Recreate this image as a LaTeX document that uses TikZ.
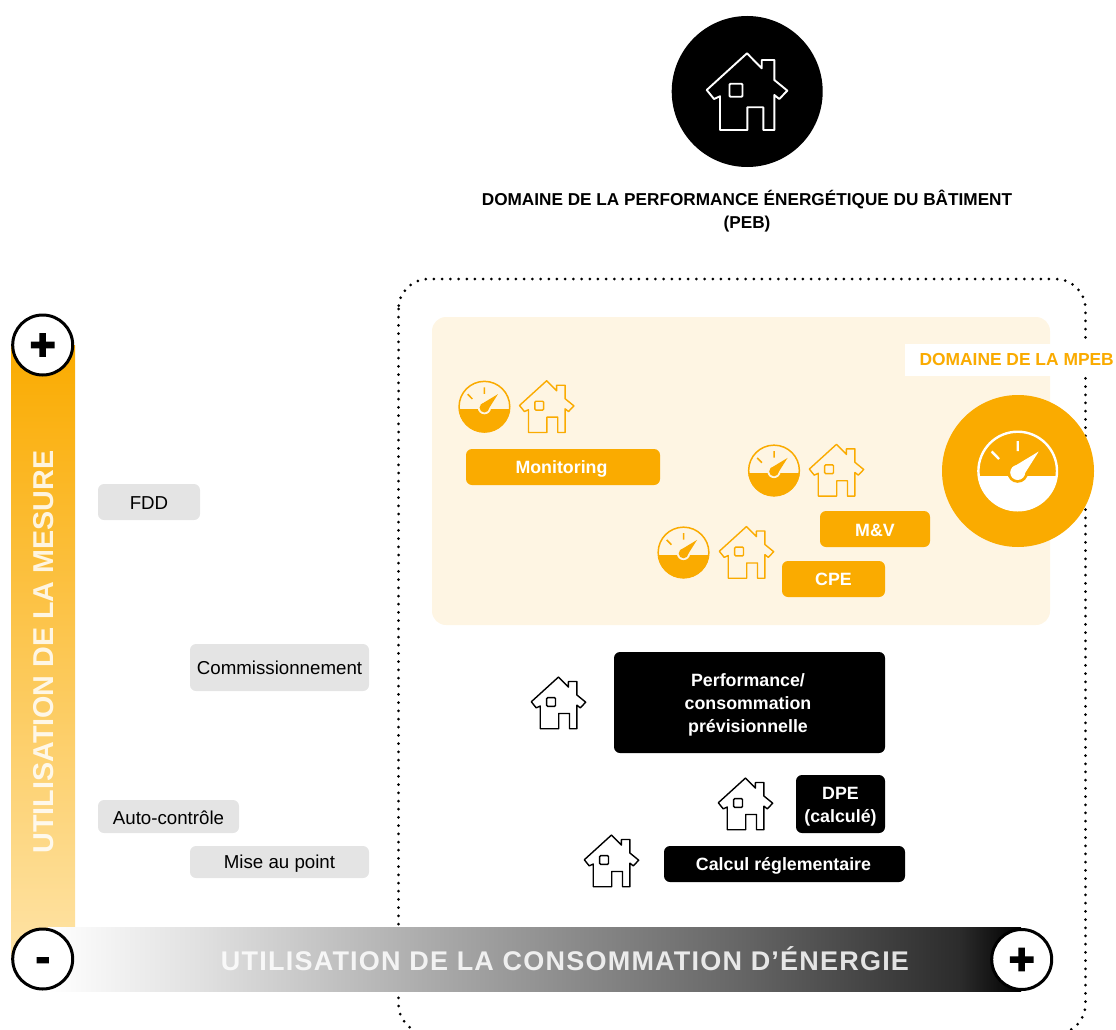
\documentclass[tikz,border=0pt]{standalone}
\usepackage{fontspec}
\setmainfont{Liberation Sans}
\newfontfamily\spacedfont[LetterSpace=4.5]{Liberation Sans}
\newfontfamily\signfont[FakeBold=12]{DejaVu Sans}
\definecolor{mpeb}{HTML}{FAAB00}
\definecolor{panel}{HTML}{FEF5E3}
\definecolor{greybox}{HTML}{E4E4E4}
\definecolor{barlow}{HTML}{FEE3A6}
\pgfdeclarehorizontalshading{energybar}{100bp}{color(0bp)=(white); color(25bp)=(white); color(32.81bp)=(black!12); color(45.14bp)=(black!34); color(60.56bp)=(black!60); color(71.87bp)=(black!83); color(75bp)=(black); color(100bp)=(black)}
% lower the text of a node by #1 without moving the node's box
\newcommand\lowered[2]{\raisebox{0pt}[\dimexpr\height+#1*2\relax][\depth]{#2}}
\newcommand\lines[1]{\begin{tabular}{@{}c@{}}#1\end{tabular}}
\tikzset{
  box/.style={rounded corners=6pt,inner sep=0pt,font=\fontsize{17.8}{23}\selectfont\bfseries,text=white},
  orangebox/.style={box,fill=mpeb},
  blackbox/.style={box,fill=black},
  greylabel/.style={rounded corners=6pt,fill=greybox,inner sep=0pt,font=\fontsize{18.7}{22}\selectfont,text=black},
  signcircle/.style={circle,draw=black,line width=3pt,fill=white,minimum size=60pt,inner sep=0pt,font=\signfont\fontsize{32}{32}\selectfont},
  pics/house/.style={code={
    \draw[pic actions,fill=none,line join=round]
      (0,0) -- (14.7,15) -- (14.7,6.7) -- (27.3,6.7) -- (27.3,26.7) -- (40.3,37.3) -- (32.3,45.7) -- (27.3,41.7)
      -- (27.3,76.7) -- (16.3,76.7) -- (16.3,54) -- (0.3,54) -- (0.3,76.7) -- (-27,76.7) -- (-27,43) -- (-33,45.7) -- (-40.3,36.7) -- cycle;
    \draw[pic actions,fill=none,rounded corners=1pt] (-17.5,30.5) rectangle (-4.5,43.5);
  }},
  pics/gauge/.style n args={3}{code={
    \begin{scope}
      \clip (-41,5) rectangle (41,41);
      \fill[#1] (0,0) circle (40);
    \end{scope}
    \draw[#1,line width=#3] (0,0) circle (39.3);
    \draw[#1,line width=#3] (0,-30) -- (0,-20) (-26,-19.5) -- (-18.7,-12);
    \fill[#2] (0,1.5) circle (10.3);
    \fill[#1] (-5.5,-3.5) -- (21,-19.5) -- (5.5,5) -- cycle;
    \fill[#1] (0,1.5) circle (7.5);
  }},
}
\begin{document}
\begin{tikzpicture}[x=1pt,y=-1pt]
\useasboundingbox (0,0) rectangle (1116,1030);
\begin{scope}
\clip (0,0) rectangle (1116,1030);
\draw[line width=3pt,line cap=round,dash pattern=on 0pt off 8.2pt,rounded corners=30pt] (398.5,279) rectangle (1085.5,1034);
\end{scope}
% top domain
\node[circle,fill=black,minimum size=151pt,inner sep=0pt] (peb) at (747.2,91.5) {};
\pic[draw=white,line width=1.9pt] at (747,53.3) {house};
\node[align=center,font=\fontsize{17.2}{22.5}\selectfont\bfseries,inner sep=0pt] (pebtitle) at (747,211) {DOMAINE DE LA PERFORMANCE ÉNERGÉTIQUE DU BÂTIMENT\\(PEB)};
% panel
\node[fill=panel,rounded corners=14pt,minimum width=618pt,minimum height=308pt,inner sep=0pt] (panelbox) at (741,471) {};
\node[fill=white,minimum width=211pt,minimum height=32pt,inner sep=0pt] (mpebbg) at (1010.5,359.5) {};
\node[anchor=east,inner sep=0pt,text=mpeb,font=\fontsize{17.4}{22}\selectfont\bfseries] (mpebtitle) at (1114,360) {DOMAINE DE LA MPEB};
\node[circle,fill=mpeb,minimum size=152pt,inner sep=0pt] (mpebcircle) at (1018,471) {};
\pic at (1017.7,471) {gauge={white}{mpeb}{2.4pt}};
% monitoring group
\pic[scale=.645] at (484.4,406.7) {gauge={mpeb}{panel}{1.5pt}};
\pic[draw=mpeb,line width=1.4pt,scale=.675] at (546.7,380.7) {house};
\node[orangebox,minimum width=194pt,minimum height=36pt] (monitoring) at (563,467) {\lowered{2pt}{Monitoring\hspace{3pt}}};
\pic[scale=.645] at (774,470.5) {gauge={mpeb}{panel}{1.5pt}};
\pic[draw=mpeb,line width=1.4pt,scale=.675] at (836.5,444.3) {house};
\node[orangebox,minimum width=110pt,minimum height=36pt] (mv) at (875,529) {\lowered{1pt}{M\&V}};
\pic[scale=.645] at (683.5,552.5) {gauge={mpeb}{panel}{1.5pt}};
\pic[draw=mpeb,line width=1.4pt,scale=.675] at (746.5,526.5) {house};
\node[orangebox,minimum width=103pt,minimum height=36pt] (cpe) at (833.5,579) {CPE};
% black group
\pic[draw=black,line width=1.4pt,scale=.675] at (558.5,677) {house};
\node[blackbox,minimum width=271pt,minimum height=101pt] (perf) at (749.5,702.5) {\lowered{2.5pt}{\lines{Performance/\\consommation\\prévisionnelle}\hspace{3pt}}};
\pic[draw=black,line width=1.4pt,scale=.675] at (745.5,778) {house};
\node[blackbox,minimum width=89pt,minimum height=58pt] (dpe) at (840.5,804) {\lowered{2.5pt}{\lines{DPE\\(calculé)}}};
\pic[draw=black,line width=1.4pt,scale=.675] at (611.5,835) {house};
\node[blackbox,minimum width=241pt,minimum height=36pt] (calcul) at (784.5,864) {\lowered{2pt}{Calcul réglementaire\hspace{2pt}}};
% grey labels
\node[greylabel,minimum width=102pt,minimum height=36pt] (fdd) at (149,502) {\lowered{1pt}{FDD}};
\node[greylabel,minimum width=179pt,minimum height=47pt] (comm) at (279.5,667.5) {\lowered{0.5pt}{Commissionnement}};
\node[greylabel,minimum width=141pt,minimum height=33pt] (auto) at (168.5,816.5) {\lowered{1.5pt}{Auto-contrôle}};
\node[greylabel,minimum width=179pt,minimum height=32pt] (mise) at (279.5,862) {\lowered{2pt}{Mise au point}};
% axes
\shade[top color=mpeb,bottom color=barlow] (11,345) rectangle (75,960);
\shade[shading=energybar] (48,927.3) rectangle (1021,991.7);
\node[rotate=90,text=white,opacity=.85,inner sep=0pt,font=\fontsize{28.7}{30}\selectfont\bfseries] (vaxis) at (44,652) {UTILISATION DE LA MESURE};
\node[text=white,opacity=.85,inner sep=0pt,font=\spacedfont\fontsize{27}{30}\selectfont\bfseries] (haxis) at (565,958.5) {UTILISATION DE LA CONSOMMATION D’ÉNERGIE};
\node[signcircle] (plustop) at (42.7,345) {+};
\node[signcircle] (minus) at (42.7,959) {\raisebox{-10pt}[0pt][0pt]{-}};
\node[signcircle] (plusright) at (1021.7,959.5) {+};
\end{tikzpicture}
\end{document}
